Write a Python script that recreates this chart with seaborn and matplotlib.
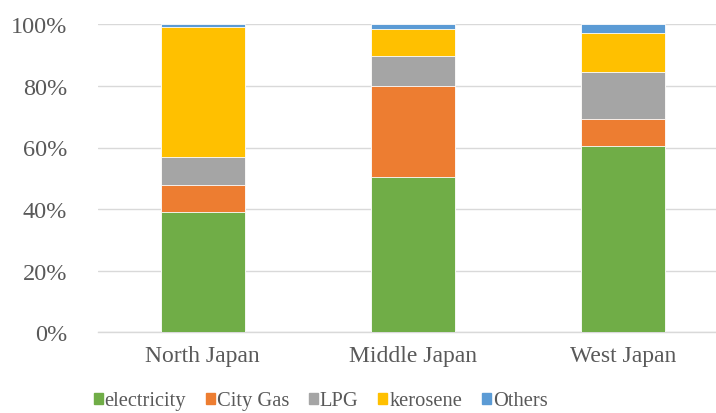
import numpy as np
import pandas as pd
import matplotlib.pyplot as plt
import matplotlib.patches as mpatches
from matplotlib.font_manager import FontProperties
import seaborn as sns

# Datos (porcentaje por region)
regiones = ["North Japan", "Middle Japan", "West Japan"]
series = ["electricity", "City Gas", "LPG", "kerosene", "Others"]
electricity = [39.1, 50.5, 60.6]
city_gas = [8.6, 29.5, 8.7]
lpg = [9.1, 9.7, 15.1]
kerosene = [42.2, 8.7, 12.8]
others = [1.0, 1.6, 2.8]
colores = ["#70AD47", "#ED7D31", "#A5A5A5", "#FFC000", "#5B9BD5"]
yticks = [0, 20, 40, 60, 80, 100]

TEXTO = "#595959"

sns.set_theme(style="white")
plt.rcParams["font.family"] = ["Liberation Serif", "DejaVu Serif"]

df = pd.DataFrame({
    "region": regiones,
    "electricity": electricity,
    "City Gas": city_gas,
    "LPG": lpg,
    "kerosene": kerosene,
    "Others": others,
})
# normalizar a 100% y acumular
vals = df[series].div(df[series].sum(axis=1), axis=0) * 100
acum = vals.cumsum(axis=1)

fig = plt.figure(figsize=(7.16, 4.14), dpi=100)
ax = fig.add_axes([97.7 / 716, 80.7 / 414, 630 / 716, 308 / 414])

# dibujar de arriba hacia abajo para simular el apilado
for serie, color in reversed(list(zip(series, colores))):
    sns.barplot(x=df["region"], y=acum[serie], order=regiones, color=color,
                saturation=1, width=0.4, edgecolor="white", linewidth=0.6,
                ax=ax, zorder=3)

ax.set_xlim(-0.5, 2.5)
ax.set_ylim(0, 100)
ax.set_yticks(yticks)
ax.set_yticklabels([f"{v}%" for v in yticks])
ax.set_xlabel("")
ax.set_ylabel("")
ax.grid(axis="y", color="#D9D9D9", linewidth=1.0, zorder=0)
ax.grid(axis="x", visible=False)
for lado in ["top", "right", "left"]:
    ax.spines[lado].set_visible(False)
ax.spines["bottom"].set_color("#D9D9D9")
ax.spines["bottom"].set_linewidth(1.0)
ax.tick_params(axis="both", length=0, labelsize=17, colors=TEXTO)
ax.tick_params(axis="y", labelsize=17.5, pad=22)
ax.tick_params(axis="x", pad=9)

fuente_leyenda = FontProperties(family=["Liberation Serif", "DejaVu Serif"], size=14.8)
handles = [mpatches.Patch(color=c, label=s) for s, c in zip(series, colores)]
fig.legend(handles=handles, loc="center", bbox_to_anchor=(0.4476, 0.029),
           ncol=5, frameon=False, prop=fuente_leyenda, labelcolor=TEXTO,
           handlelength=0.44, handleheight=0.44, handletextpad=0.1,
           columnspacing=0.95, borderpad=0, borderaxespad=0)

fig.savefig("out.png", dpi=100)
plt.close(fig)
